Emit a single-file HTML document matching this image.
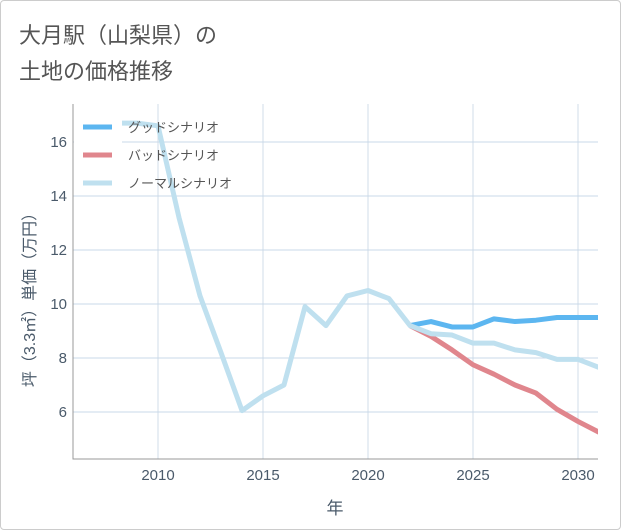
<!DOCTYPE html>
<html><head><meta charset="utf-8"><style>
body{margin:0;background:#fff;font-family:"Liberation Sans","Noto Sans CJK JP",sans-serif}
#wrap{position:relative;width:621px;height:530px;box-sizing:border-box;border:1px solid #ccc;border-radius:4px;overflow:hidden}
.t{position:absolute;left:18px;font-size:22px;color:#555}
</style></head><body>
<div id="wrap">
<div class="t" style="top:17px">大月駅（山梨県）の</div>
<div class="t" style="top:53px">土地の価格推移</div>
<svg id="c" width="621" height="530" style="position:absolute;left:0;top:0"></svg>
</div>
<script>
const years=[2007,2008,2009,2010,2011,2012,2013,2014,2015,2016,2017,2018,2019,2020,2021,2022,2023,2024,2025,2026,2027,2028,2029,2030,2031];
const normal=[15.3,16.7,16.7,16.6,13.2,10.3,8.2,6.05,6.6,7.0,9.9,9.2,10.3,10.5,10.2,9.2,8.9,8.85,8.55,8.55,8.3,8.2,7.95,7.95,7.65];
const goodYears=[2022,2023,2024,2025,2026,2027,2028,2029,2030,2031];
const good=[9.2,9.35,9.15,9.15,9.45,9.35,9.4,9.5,9.5,9.5];
const bad=[9.2,8.8,8.3,7.75,7.4,7.0,6.7,6.1,5.65,5.25];
const xTicks=[2010,2015,2020,2025,2030];
const yTicks=[6,8,10,12,14,16];
const L=72,R=597,T=103,B=458;
const X=v=>157+(v-2010)*21;
const Y=v=>303-(v-10)*27;
const svg=document.getElementById('c');const ns='http://www.w3.org/2000/svg';
function mk(tag,a,p){const e=document.createElementNS(ns,tag);for(const k in a)e.setAttribute(k,a[k]);(p||svg).appendChild(e);return e;}
const clip=mk('clipPath',{id:'pc'});mk('rect',{x:L,y:T,width:R-L,height:B-T},clip);
xTicks.forEach(v=>{const g=mk('line',{x1:X(v),x2:X(v),y1:T,y2:B,stroke:'#d0dce8','stroke-width':1});

const t=mk('text',{x:X(v),y:479,'text-anchor':'middle','font-size':15,fill:'#4a5a6a'});t.textContent=v;
});
yTicks.forEach(v=>{const g=mk('line',{x1:L,x2:R,y1:Y(v),y2:Y(v),stroke:'#c8d8e8','stroke-width':1});

const t=mk('text',{x:66,y:Y(v)+5,'text-anchor':'end','font-size':15,fill:'#4a5a6a'});t.textContent=v;
});
const ax=mk('path',{d:`M${L} ${T}V${B}H${R}`,fill:'none',stroke:'#999','stroke-width':1});

function line(xs,vs,col,name){const p=mk('polyline',{points:xs.map((y,i)=>X(y)+','+Y(vs[i])).join(' '),fill:'none',stroke:col,'stroke-width':5,'stroke-linejoin':'round','clip-path':'url(#pc)'});
}
line(goodYears,bad,'#e0868d','bad-scenario-line');
line(goodYears,good,'#5cb6f0','good-scenario-line');
line(years,normal,'#bfe0ef','normal-scenario-line');
const lb=mk('rect',{x:L+1,y:T+1,width:48,height:90,fill:'#fff'});

[['グッドシナリオ','#5cb6f0'],['バッドシナリオ','#e0868d'],['ノーマルシナリオ','#bfe0ef']].forEach((d,i)=>{
const y=126+i*28;
const s=mk('line',{x1:82,x2:111,y1:y,y2:y,stroke:d[1],'stroke-width':5});

const t=mk('text',{x:127,y:y+5,'font-size':13,fill:'#555'});t.textContent=d[0];
});
const xt=mk('text',{x:334,y:513,'text-anchor':'middle','font-size':17,fill:'#4a5a6a'});xt.textContent='年';

const yt=mk('text',{x:0,y:0,'text-anchor':'middle','font-size':16,fill:'#4a5a6a',transform:'translate(34,295) rotate(-90)'});yt.textContent='坪（3.3㎡）単価（万円）';

</script>
</body></html>
